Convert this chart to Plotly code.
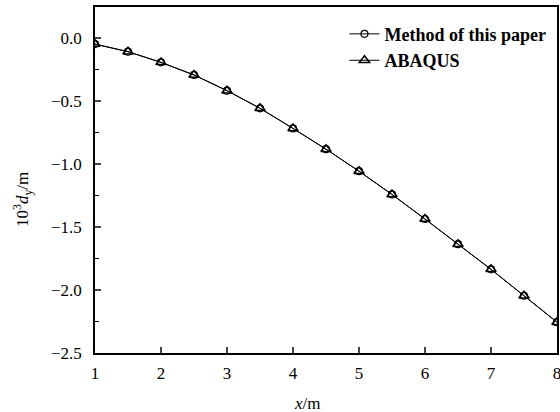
import plotly.graph_objects as go

x_vals = [1, 1.5, 2, 2.5, 3, 3.5, 4, 4.5, 5, 5.5, 6, 6.5, 7, 7.5, 8]
method_vals = [-0.045, -0.105, -0.19, -0.29, -0.415, -0.555, -0.715, -0.88, -1.055, -1.24, -1.435, -1.635, -1.835, -2.045, -2.255]
abaqus_vals = [-0.045, -0.105, -0.19, -0.29, -0.415, -0.555, -0.715, -0.88, -1.055, -1.24, -1.435, -1.635, -1.835, -2.045, -2.255]
x_ticks = [1, 2, 3, 4, 5, 6, 7, 8]
y_ticks = [0.0, -0.5, -1.0, -1.5, -2.0, -2.5]
y_tick_labels = ["0.0", "\u22120.5", "\u22121.0", "\u22121.5", "\u22122.0", "\u22122.5"]

font = "Liberation Serif"

fig = go.Figure()
fig.add_trace(go.Scatter(
    x=x_vals, y=method_vals, mode="lines+markers", name="<b>Method of this paper</b>",
    legendgroup="a",
    line=dict(color="black", width=1),
    marker=dict(symbol="circle-open", size=7, color="black", line=dict(width=1.2)),
))
fig.add_trace(go.Scatter(
    x=x_vals, y=abaqus_vals, mode="lines+markers", name="<b>ABAQUS</b>",
    legendgroup="b",
    line=dict(color="black", width=1),
    marker=dict(symbol="triangle-up-open", size=9, color="black", line=dict(width=1.5)),
))

fig.update_layout(
    width=560, height=412,
    margin=dict(l=95, r=3, t=7, b=59, autoexpand=False),
    paper_bgcolor="white", plot_bgcolor="white",
    font=dict(family=font, size=17, color="black"),
    showlegend=True,
    legend=dict(
        x=0.988, y=0.975, xanchor="right", yanchor="top",
        bgcolor="rgba(0,0,0,0)", font=dict(family=font, size=18, color="black"),
        itemwidth=30, tracegroupgap=0, traceorder="grouped",
    ),
    xaxis=dict(
        range=[1, 8], tickvals=x_ticks, ticks="inside", ticklen=6, tickwidth=1.5,
        showline=True, linecolor="black", linewidth=1.5, mirror=True,
        showgrid=False, zeroline=False, automargin=False,
        ticklabelstandoff=4, ticklabeloverflow="allow",
    ),
    yaxis=dict(
        range=[-2.5, 0.25], tickvals=y_ticks, ticktext=y_tick_labels,
        ticks="inside", ticklen=6, tickwidth=1.5,
        minor=dict(tickvals=[-0.25, -0.75, -1.25, -1.75, -2.25], ticks="inside", ticklen=4, tickwidth=1.2, tickcolor="black"),
        showline=True, linecolor="black", linewidth=1.5, mirror=True,
        showgrid=False, zeroline=False, automargin=False,
        ticklabelstandoff=8, ticklabeloverflow="allow",
    ),
    annotations=[
        dict(text="<i>x</i>/m", xref="paper", yref="paper", x=0.461, y=-0.145,
             xanchor="center", yanchor="middle", showarrow=False,
             font=dict(family=font, size=17)),
        dict(text="10<sup>3</sup><i>d</i><sub>y</sub>/m", xref="paper", yref="paper",
             x=-0.158, y=0.442, xanchor="center", yanchor="middle", showarrow=False,
             textangle=-90, font=dict(family=font, size=17)),
    ],
)

fig.write_html("out.html", config={"displayModeBar": False},
               post_script="document.body.style.margin='0';document.body.style.padding='0';")
